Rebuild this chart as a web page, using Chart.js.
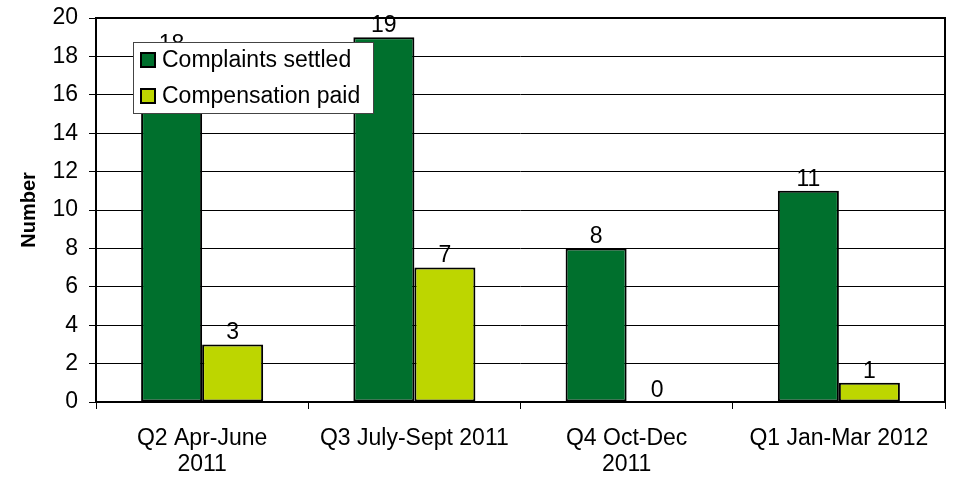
<!DOCTYPE html>
<html>
<head>
<meta charset="utf-8">
<script src="https://cdn.jsdelivr.net/npm/chart.js@4"></script>
<style>
  html, body { margin: 0; padding: 0; background: #fff; }
  #wrap { width: 955px; height: 479px; }
</style>
</head>
<body>
<div id="wrap"><canvas id="complaintsChart" width="955" height="479"></canvas></div>
<script>
const categories = [['Q2 Apr-June', '2011'], 'Q3 July-Sept 2011', ['Q4 Oct-Dec', '2011'], 'Q1 Jan-Mar 2012'];
const complaintsSettled = [18, 19, 8, 11];
const compensationPaid = [3, 7, 0, 1];
const yTicks = [0, 2, 4, 6, 8, 10, 12, 14, 16, 18, 20];

const FONT = 'Arial, "Liberation Sans", sans-serif';
const TEXT_SIZE = 23;

// numbers above bars
const valueLabels = {
    id: 'valueLabels',
    afterDatasetsDraw(chart) {
        const ctx = chart.ctx;
        ctx.save();
        ctx.font = TEXT_SIZE + 'px ' + FONT;
        ctx.fillStyle = '#000';
        ctx.textAlign = 'center';
        ctx.textBaseline = 'bottom';
        chart.data.datasets.forEach((ds, i) => {
            chart.getDatasetMeta(i).data.forEach((bar, j) => {
                ctx.fillText(String(ds.data[j]), bar.x, bar.y);
            });
        });
        ctx.restore();
    }
};

// frame round the plot and the boxed legend sitting on it
const frameAndLegend = {
    id: 'frameAndLegend',
    afterDraw(chart) {
        const ctx = chart.ctx;
        const a = chart.chartArea;
        ctx.save();
        ctx.strokeStyle = '#000';
        ctx.lineWidth = 2;
        ctx.strokeRect(a.left, a.top, a.right - a.left, a.bottom - a.top);

        const lx = 133, ly = 42, lw = 240, lh = 71;
        ctx.fillStyle = '#fff';
        ctx.fillRect(lx, ly, lw, lh);
        ctx.strokeStyle = '#444';
        ctx.lineWidth = 1;
        ctx.strokeRect(lx + 0.5, ly + 0.5, lw, lh);

        ctx.font = TEXT_SIZE + 'px ' + FONT;
        ctx.textBaseline = 'middle';
        ctx.textAlign = 'left';
        chart.data.datasets.forEach((ds, i) => {
            const cy = ly + 18 + i * 36;
            ctx.fillStyle = ds.backgroundColor;
            ctx.fillRect(141, cy - 7, 14, 14);
            ctx.strokeStyle = '#000';
            ctx.lineWidth = 2;
            ctx.strokeRect(141, cy - 7, 14, 14);
            ctx.fillStyle = '#000';
            ctx.fillText(ds.label, 162, cy + 1);
        });
        ctx.restore();
    }
};

new Chart(document.getElementById('complaintsChart').getContext('2d'), {
    type: 'bar',
    data: {
        labels: categories,
        datasets: [{
            label: 'Complaints settled',
            data: complaintsSettled,
            backgroundColor: '#00702D',
            borderColor: '#000',
            borderWidth: 2,
            borderSkipped: false
        }, {
            label: 'Compensation paid',
            data: compensationPaid,
            backgroundColor: '#BDD600',
            borderColor: '#000',
            borderWidth: 2,
            borderSkipped: false
        }]
    },
    options: {
        responsive: false,
        animation: false,
        layout: { padding: { top: 18, right: 10, left: 17, bottom: 0 } },
        datasets: {
            bar: { categoryPercentage: 0.575, barPercentage: 1.0 }
        },
        scales: {
            x: {
                offset: true,
                grid: {
                    offset: true,
                    drawOnChartArea: false,
                    drawTicks: true,
                    tickLength: 7,
                    color: '#000'
                },
                border: { display: false },
                ticks: {
                    color: '#000',
                    font: { family: FONT, size: TEXT_SIZE, lineHeight: 1.15 },
                    padding: 16,
                    maxRotation: 0,
                    autoSkip: false
                },
                afterFit(scale) { scale.height = 77; }
            },
            y: {
                min: 0,
                max: 20,
                afterBuildTicks(scale) { scale.ticks = yTicks.map(v => ({ value: v })); },
                grid: {
                    color: '#000',
                    lineWidth: 1,
                    drawTicks: true,
                    tickLength: 7
                },
                border: { display: false },
                ticks: {
                    color: '#000',
                    font: { family: FONT, size: TEXT_SIZE },
                    padding: 11
                },
                title: {
                    display: true,
                    text: 'Number',
                    color: '#000',
                    font: { family: FONT, size: 20, weight: 'bold' },
                    padding: { top: 0, bottom: 6 }
                },
                afterFit(scale) {
                    scale.width = 79;
                    scale.paddingTop = 0;
                    scale.paddingBottom = 0;
                }
            }
        },
        plugins: {
            legend: { display: false },
            tooltip: { enabled: false }
        }
    },
    plugins: [valueLabels, frameAndLegend]
});
</script>
</body>
</html>
